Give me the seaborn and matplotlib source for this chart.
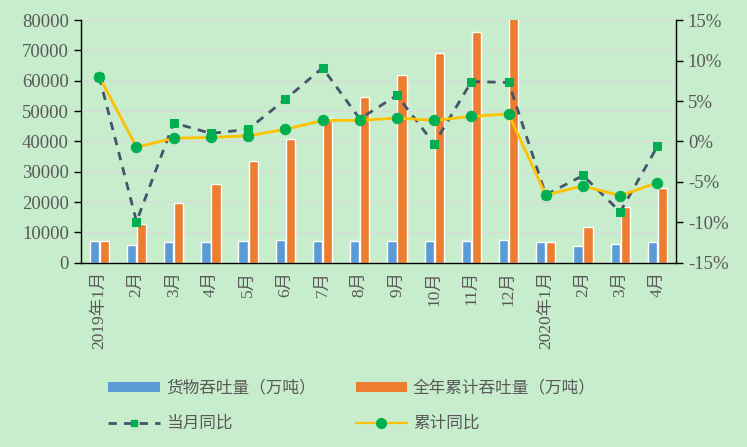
import numpy as np
import pandas as pd
import matplotlib
matplotlib.use("Agg")
import matplotlib.pyplot as plt
import seaborn as sns
from matplotlib.patches import Patch
from matplotlib.lines import Line2D
from matplotlib.ticker import FuncFormatter, MultipleLocator

categories = ["2019年1月", "2月", "3月", "4月", "5月", "6月", "7月", "8月", "9月",
              "10月", "11月", "12月", "2020年1月", "2月", "3月", "4月"]
monthly = [7200, 5900, 6800, 6800, 7200, 7500, 7200, 7200, 7200, 7200, 7200, 7500,
           6800, 5400, 6100, 6800]
cumulative = [7200, 12900, 19600, 26100, 33400, 40700, 47800, 54700, 61900, 69200,
              76000, 83000, 6800, 11900, 18300, 24800]
monthly_yoy = [8.0, -9.9, 2.3, 1.0, 1.5, 5.2, 9.1, 2.8, 5.7, -0.3, 7.4, 7.3,
               -6.6, -4.2, -8.7, -0.6]
cum_yoy = [8.0, -0.7, 0.4, 0.5, 0.7, 1.5, 2.6, 2.6, 2.9, 2.6, 3.1, 3.4,
           -6.6, -5.5, -6.7, -5.1]

s1 = "货物吞吐量（万吨）"
s2 = "全年累计吞吐量（万吨）"
s3 = "当月同比"
s4 = "累计同比"

BG = "#C7EDCC"
BLUE = "#5B9BD5"
ORANGE = "#ED7D31"
YELLOW = "#FFC000"
GREEN = "#00B050"
DARK = "#44546A"
TXT = "#595959"

sns.set_theme(style="white")
plt.rcParams['font.family'] = ['Liberation Serif', 'Noto Sans CJK SC', 'DejaVu Sans']

df = pd.DataFrame({
    "cat": categories * 2,
    "pos": list(range(len(categories))) * 2,
    "val": monthly + cumulative,
    "series": [s1] * len(categories) + [s2] * len(categories),
})

fig = plt.figure(figsize=(7.47, 4.47), dpi=100, facecolor=BG)
ax = fig.add_axes([0.108, 0.412, 0.797, 0.543])
ax.set_facecolor(BG)

sns.barplot(data=df, x="pos", y="val", hue="series", palette=[BLUE, ORANGE],
            width=0.54, gap=0.08, ax=ax, legend=False, saturation=1)

ax.set_ylim(0, 80000)
ax.set_xlim(-0.5, len(categories) - 0.5)
ax.yaxis.set_major_locator(MultipleLocator(10000))
ax.grid(axis="y", color="#D9D9D9", linewidth=0.9)
ax.set_axisbelow(True)
ax.set_xlabel("")
ax.set_ylabel("")

ax.set_xticks(np.arange(len(categories)))
ax.set_xticklabels(categories, rotation=90, fontsize=12.5, color=TXT,
                   family=['Liberation Serif', 'Noto Sans CJK SC'])
ax.tick_params(axis="x", length=0, pad=6)
ax.set_xticks(np.arange(-0.5, len(categories) + 0.5, 1), minor=True)
ax.tick_params(axis="x", which="minor", length=5, width=1, color="black", direction="out")
ax.tick_params(axis="y", labelsize=13.5, labelcolor=TXT, length=5, width=1,
               color="black", direction="out", left=True)

for s in ["top", "right"]:
    ax.spines[s].set_visible(False)
for s in ["left", "bottom"]:
    ax.spines[s].set_color("black")
    ax.spines[s].set_linewidth(1.0)

ax2 = ax.twinx()
xs = np.arange(len(categories))
sns.lineplot(x=xs, y=monthly_yoy, ax=ax2, color=DARK, linewidth=2.0,
             linestyle=(0, (3.0, 2.6)), marker="s", markersize=5.5,
             markerfacecolor=GREEN, markeredgecolor=GREEN, zorder=3)
sns.lineplot(x=xs, y=cum_yoy, ax=ax2, color=YELLOW, linewidth=2.0,
             marker="o", markersize=7.5,
             markerfacecolor=GREEN, markeredgecolor=GREEN, zorder=4)
ax2.set_ylim(-15, 15)
ax2.set_xlim(-0.5, len(categories) - 0.5)
ax2.yaxis.set_major_locator(MultipleLocator(5))
ax2.yaxis.set_major_formatter(FuncFormatter(lambda v, p: f"{v:.0f}%"))
ax2.tick_params(axis="y", labelsize=13.5, labelcolor=TXT, length=5, width=1,
                color="black", direction="out", right=True)
ax2.set_ylabel("")
for s in ["top", "left", "bottom"]:
    ax2.spines[s].set_visible(False)
ax2.spines["right"].set_color("black")
ax2.spines["right"].set_linewidth(1.0)

handles = [
    Patch(facecolor=BLUE, edgecolor="none"),
    Line2D([], [], color=DARK, linewidth=2.0, linestyle=(0, (3.0, 2.6)), marker="s",
           markersize=5, markerfacecolor=GREEN, markeredgecolor=GREEN),
    Patch(facecolor=ORANGE, edgecolor="none"),
    Line2D([], [], color=YELLOW, linewidth=1.6, marker="o", markersize=7,
           markerfacecolor=GREEN, markeredgecolor=GREEN),
]
labels = [s1, s3, s2, s4]
leg = fig.legend(handles, labels, ncol=2, loc="lower left",
                 bbox_to_anchor=(0.125, 0.0), frameon=False,
                 prop={"family": ["Noto Sans CJK SC"], "size": 12},
                 handlelength=3.1, handleheight=0.55, columnspacing=2.4,
                 labelspacing=1.1, handletextpad=0.35, labelcolor=TXT)

fig.savefig("out.png", dpi=100, facecolor=BG)
